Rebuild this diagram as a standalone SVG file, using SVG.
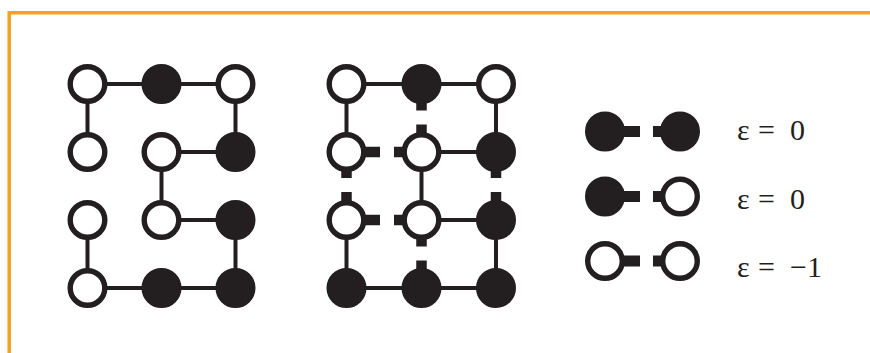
<svg xmlns="http://www.w3.org/2000/svg" width="870" height="353" viewBox="0 0 870 353">
<style>
.w{fill:#ffffff;stroke:#231f20;stroke-width:5.4}
.b{fill:#231f20;stroke:#231f20;stroke-width:5.4}
.c{stroke:#231f20;stroke-width:4;fill:none}
.s{fill:#231f20}
.t{font-family:"Liberation Serif","Times New Roman",serif;font-size:30px;fill:#231f20}
</style>
<rect x="0" y="0" width="870" height="353" fill="#ffffff"/>
<path d="M9.2 353 V12.7 H870" fill="none" stroke="#f5a21f" stroke-width="3.5"/>
<g id="connectors">
<line class="c" x1="87.5" y1="84" x2="235.5" y2="84"/>
<line class="c" x1="87.5" y1="84" x2="87.5" y2="152"/>
<line class="c" x1="235.5" y1="84" x2="235.5" y2="152"/>
<line class="c" x1="161.5" y1="152" x2="235.5" y2="152"/>
<line class="c" x1="161.5" y1="152" x2="161.5" y2="220"/>
<line class="c" x1="161.5" y1="220" x2="235.5" y2="220"/>
<line class="c" x1="87.5" y1="220" x2="87.5" y2="288"/>
<line class="c" x1="235.5" y1="220" x2="235.5" y2="288"/>
<line class="c" x1="87.5" y1="288" x2="235.5" y2="288"/>
<line class="c" x1="346.5" y1="84" x2="496" y2="84"/>
<line class="c" x1="346.5" y1="84" x2="346.5" y2="152"/>
<line class="c" x1="496" y1="84" x2="496" y2="152"/>
<line class="c" x1="421.5" y1="152" x2="496" y2="152"/>
<line class="c" x1="421.5" y1="152" x2="421.5" y2="220"/>
<line class="c" x1="421.5" y1="220" x2="496" y2="220"/>
<line class="c" x1="346.5" y1="220" x2="346.5" y2="288"/>
<line class="c" x1="496" y1="220" x2="496" y2="288"/>
<line class="c" x1="346.5" y1="288" x2="496" y2="288"/>
<rect class="s" x="346.5" y="146.75" width="33.5" height="10.5"/>
<rect class="s" x="394" y="146.75" width="27.5" height="10.5"/>
<rect class="s" x="346.5" y="214.75" width="33.5" height="10.5"/>
<rect class="s" x="394" y="214.75" width="27.5" height="10.5"/>
<rect class="s" x="416.25" y="84" width="10.5" height="26.5"/>
<rect class="s" x="416.25" y="124.5" width="10.5" height="27.5"/>
<rect class="s" x="341.25" y="152" width="10.5" height="26"/>
<rect class="s" x="341.25" y="192" width="10.5" height="28"/>
<rect class="s" x="490.75" y="152" width="10.5" height="26"/>
<rect class="s" x="490.75" y="192" width="10.5" height="28"/>
<rect class="s" x="416.25" y="220" width="10.5" height="26.5"/>
<rect class="s" x="416.25" y="260.5" width="10.5" height="27.5"/>
<rect class="s" x="605" y="126" width="35" height="11"/>
<rect class="s" x="653" y="126" width="27" height="11"/>
<rect class="s" x="605" y="191" width="35" height="11"/>
<rect class="s" x="653" y="191" width="27" height="11"/>
<rect class="s" x="605" y="255.5" width="35" height="11"/>
<rect class="s" x="653" y="255.5" width="27" height="11"/>
</g>
<g id="g1-r1c1"><circle class="w" cx="87.5" cy="84" r="17.3"/></g>
<g id="g1-r1c2"><circle class="b" cx="161.5" cy="84" r="17.3"/></g>
<g id="g1-r1c3"><circle class="w" cx="235.5" cy="84" r="17.3"/></g>
<g id="g1-r2c1"><circle class="w" cx="87.5" cy="152" r="17.3"/></g>
<g id="g1-r2c2"><circle class="w" cx="161.5" cy="152" r="17.3"/></g>
<g id="g1-r2c3"><circle class="b" cx="235.5" cy="152" r="17.3"/></g>
<g id="g1-r3c1"><circle class="w" cx="87.5" cy="220" r="17.3"/></g>
<g id="g1-r3c2"><circle class="w" cx="161.5" cy="220" r="17.3"/></g>
<g id="g1-r3c3"><circle class="b" cx="235.5" cy="220" r="17.3"/></g>
<g id="g1-r4c1"><circle class="w" cx="87.5" cy="288" r="17.3"/></g>
<g id="g1-r4c2"><circle class="b" cx="161.5" cy="288" r="17.3"/></g>
<g id="g1-r4c3"><circle class="b" cx="235.5" cy="288" r="17.3"/></g>
<g id="g2-r1c1"><circle class="w" cx="346.5" cy="84" r="17.3"/></g>
<g id="g2-r1c2"><circle class="b" cx="421.5" cy="84" r="17.3"/></g>
<g id="g2-r1c3"><circle class="w" cx="496" cy="84" r="17.3"/></g>
<g id="g2-r2c1"><circle class="w" cx="346.5" cy="152" r="17.3"/></g>
<g id="g2-r2c2"><circle class="w" cx="421.5" cy="152" r="17.3"/></g>
<g id="g2-r2c3"><circle class="b" cx="496" cy="152" r="17.3"/></g>
<g id="g2-r3c1"><circle class="w" cx="346.5" cy="220" r="17.3"/></g>
<g id="g2-r3c2"><circle class="w" cx="421.5" cy="220" r="17.3"/></g>
<g id="g2-r3c3"><circle class="b" cx="496" cy="220" r="17.3"/></g>
<g id="g2-r4c1"><circle class="b" cx="346.5" cy="288" r="17.3"/></g>
<g id="g2-r4c2"><circle class="b" cx="421.5" cy="288" r="17.3"/></g>
<g id="g2-r4c3"><circle class="b" cx="496" cy="288" r="17.3"/></g>
<g id="legend-1">
<circle class="b" cx="605" cy="131.5" r="17.3"/>
<circle class="b" cx="680" cy="131.5" r="17.3"/>
<text class="t" y="139.5"><tspan x="737">ε</tspan><tspan x="758">=</tspan><tspan x="790">0</tspan></text>
</g>
<g id="legend-2">
<circle class="b" cx="605" cy="196.5" r="17.3"/>
<circle class="w" cx="680" cy="196.5" r="17.3"/>
<text class="t" y="208.5"><tspan x="737">ε</tspan><tspan x="758">=</tspan><tspan x="790">0</tspan></text>
</g>
<g id="legend-3">
<circle class="w" cx="605" cy="261" r="17.3"/>
<circle class="w" cx="680" cy="261" r="17.3"/>
<text class="t" y="277"><tspan x="737">ε</tspan><tspan x="758">=</tspan><tspan x="790">−1</tspan></text>
</g>
</svg>
